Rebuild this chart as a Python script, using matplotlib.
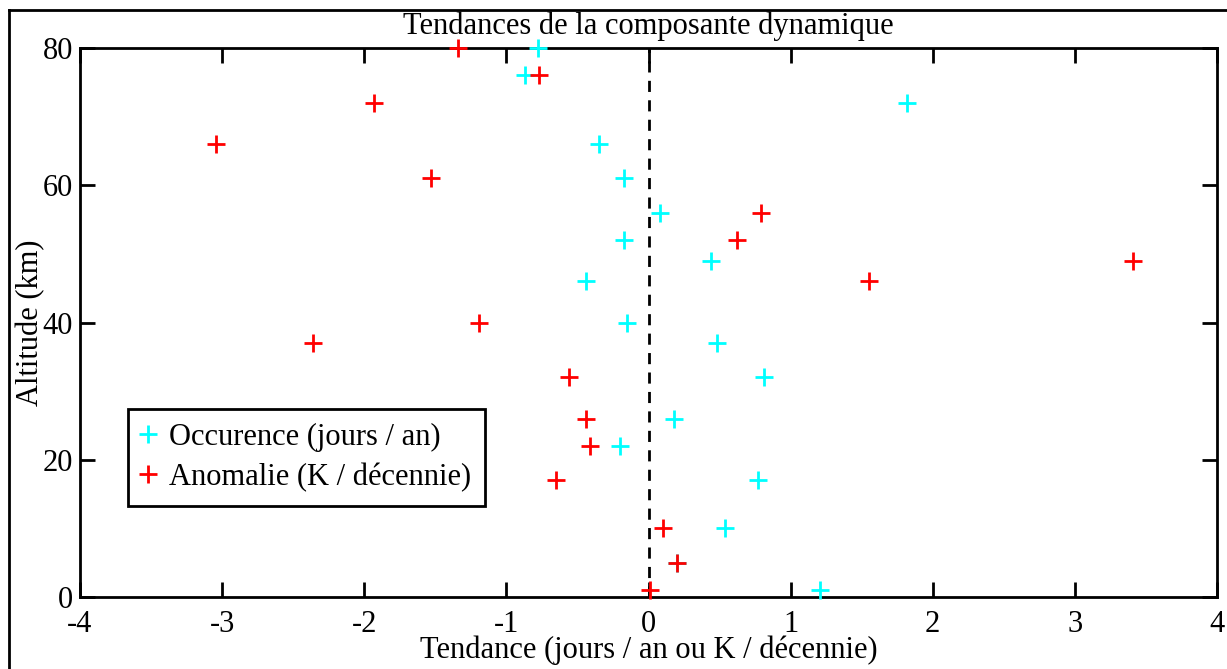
import matplotlib.pyplot as plt
import numpy as np

plt.rcParams['font.family'] = ['Liberation Serif', 'DejaVu Serif']
plt.rcParams['axes.unicode_minus'] = False

# altitude levels (km)
altitude = [80, 76, 72, 66, 61, 56, 52, 49, 46, 40, 37, 32, 26, 22, 17, 10, 5, 1]
# occurrence trend (jours / an)
occurence = [-0.78, -0.87, 1.82, -0.35, -0.17, 0.08, -0.17, 0.44, -0.44,
             -0.15, 0.48, 0.81, 0.18, -0.20, 0.77, 0.54, 0.20, 1.21]
# anomaly trend (K / decennie)
anomalie = [-1.34, -0.77, -1.93, -3.04, -1.53, 0.79, 0.62, 3.41, 1.55,
            -1.19, -2.36, -0.56, -0.44, -0.41, -0.65, 0.10, 0.20, 0.01]

fig = plt.figure(figsize=(12.27, 6.69), dpi=100)
ax = fig.add_axes([80 / 1227, 72 / 669, 1137 / 1227, 549 / 669])

ax.plot([0, 0], [0, 80], 'k--', lw=2, dashes=(4, 3), zorder=1)
ax.plot(occurence, altitude, '+', color='cyan', ms=13, mew=2,
        clip_on=False, label='Occurence (jours / an)', zorder=3)
ax.plot(anomalie, altitude, '+', color='red', ms=13, mew=2,
        clip_on=False, label='Anomalie (K / décennie)', zorder=4)

ax.set_xlim(-4, 4)
ax.set_ylim(0, 80)
ax.set_xticks(np.arange(-4, 5, 1))
ax.set_yticks(np.arange(0, 81, 20))
ax.tick_params(direction='in', length=11, width=2, top=True, right=True,
               labelsize=22)
ax.tick_params(axis='x', pad=9)
ax.tick_params(axis='y', pad=5)
for s in ax.spines.values():
    s.set_linewidth(2)

ax.set_title('Tendances de la composante dynamique', fontsize=22, pad=10)
ax.set_xlabel('Tendance (jours / an ou K / décennie)', fontsize=22, labelpad=-2)
ax.set_ylabel('Altitude (km)', fontsize=22, labelpad=-2)

leg = ax.legend(loc='lower left', bbox_to_anchor=(0.042, 0.166), fontsize=22,
                fancybox=False, edgecolor='black', framealpha=1,
                handlelength=0.4, handletextpad=0.5, borderpad=0.45,
                borderaxespad=0, labelspacing=0.35)
leg.get_frame().set_linewidth(2)

# outer frame lines
fig.add_artist(plt.Line2D([9 / 1227, 9 / 1227], [0, 1 - 10 / 669],
                          color='black', lw=2, transform=fig.transFigure))
fig.add_artist(plt.Line2D([9 / 1227, 1], [1 - 10 / 669, 1 - 10 / 669],
                          color='black', lw=2, transform=fig.transFigure))

fig.savefig('out.png', dpi=100)
